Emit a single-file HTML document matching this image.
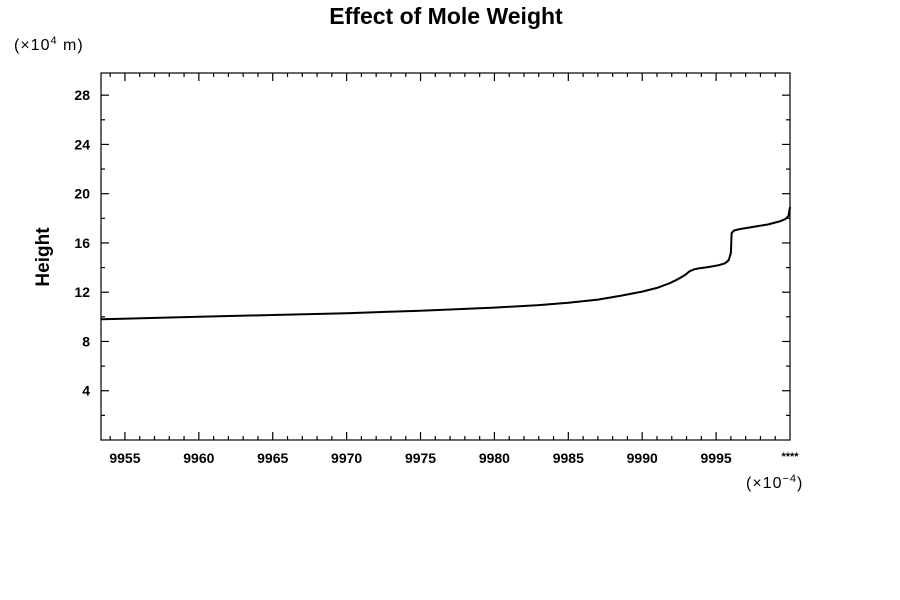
<!DOCTYPE html>
<html><head><meta charset="utf-8"><style>
body{margin:0;background:#fff;}
svg{display:block;font-family:"Liberation Sans",sans-serif;}
</style></head><body>
<svg id="chart" width="900" height="600">
<text x="446" y="24" text-anchor="middle" font-size="23" font-weight="bold">Effect of Mole Weight</text>
<text x="14" y="50" font-size="16" letter-spacing="1">(×10<tspan dy="-6" font-size="11">4</tspan><tspan dy="6"> m)</tspan></text>
<text x="49" y="257" font-size="19" font-weight="bold" text-anchor="middle" transform="rotate(-90 49 257)">Height</text>
<text x="746" y="488" font-size="16" letter-spacing="1">(×10<tspan dy="-6" font-size="11">−4</tspan><tspan dy="6">)</tspan></text>
<text x="790" y="460" font-size="11" font-weight="bold" text-anchor="middle">****</text>
<rect x="101" y="73" width="689" height="367" fill="none" stroke="#000" stroke-width="1.2"/>
<g id="ticks"></g>
<path id="line" fill="none" stroke="#000" stroke-width="2" stroke-linejoin="round"/>
</svg>
<script>
const xData = [9953.4, 9960, 9965, 9970, 9975, 9980, 9983, 9985, 9987, 9988.5, 9990, 9991, 9991.8, 9992.4, 9992.9, 9993.2, 9993.5, 9993.9, 9994.5, 9995.2, 9995.6, 9995.85, 9996.0, 9996.05, 9996.2, 9996.5, 9997.5, 9998.5, 9999.3, 9999.7, 9999.9, 10000];
const yData = [9.8, 10.0, 10.15, 10.3, 10.5, 10.75, 10.95, 11.15, 11.4, 11.7, 12.05, 12.35, 12.7, 13.05, 13.4, 13.7, 13.85, 13.95, 14.05, 14.2, 14.35, 14.6, 15.2, 16.8, 17.0, 17.1, 17.3, 17.5, 17.75, 17.95, 18.2, 18.9];
const xTickLabels = [9955, 9960, 9965, 9970, 9975, 9980, 9985, 9990, 9995];
const yTickLabels = [4, 8, 12, 16, 20, 24, 28];

const X0=101, X1=790, Y0=440, Y1=73;
const xMin=9953.38, xMax=10000, yMin=0, yMax=29.8;
const sx = v => X0 + (v - xMin) / (xMax - xMin) * (X1 - X0);
const sy = v => Y0 - (v - yMin) / (yMax - yMin) * (Y0 - Y1);
const NS="http://www.w3.org/2000/svg";
const tg=document.getElementById('ticks');
function ln(x1,y1,x2,y2){
  const l=document.createElementNS(NS,'line');
  l.setAttribute('x1',x1);l.setAttribute('y1',y1);l.setAttribute('x2',x2);l.setAttribute('y2',y2);
  l.setAttribute('stroke','#000');l.setAttribute('stroke-width','1.2');
  
  
  tg.appendChild(l);
}
for(let v=9954; v<10000; v++){
  const x=sx(v), major=(v%5===0), len=major?8:4;
  ln(x,Y0,x,Y0-len); ln(x,Y1,x,Y1+len);
}
for(let v=2; v<yMax; v+=2){
  const y=sy(v), major=(v%4===0), len=major?8:4;
  ln(X0,y,X0+len,y); ln(X1,y,X1-len,y);
}
xTickLabels.forEach(v=>{
  const t=document.createElementNS(NS,'text');
  t.setAttribute('x',sx(v));t.setAttribute('y',463);
  t.setAttribute('text-anchor','middle');t.setAttribute('font-size','14');t.setAttribute('font-weight','bold');
  
  
  t.textContent=v;tg.appendChild(t);
});
yTickLabels.forEach(v=>{
  const t=document.createElementNS(NS,'text');
  t.setAttribute('x',90);t.setAttribute('y',sy(v)+5);
  t.setAttribute('text-anchor','end');t.setAttribute('font-size','14');t.setAttribute('font-weight','bold');
  
  
  t.textContent=v;tg.appendChild(t);
});
document.getElementById('line').setAttribute('d',
  xData.map((v,i)=>(i?'L':'M')+sx(v).toFixed(1)+' '+sy(yData[i]).toFixed(1)).join(' '));
</script>
</body></html>
